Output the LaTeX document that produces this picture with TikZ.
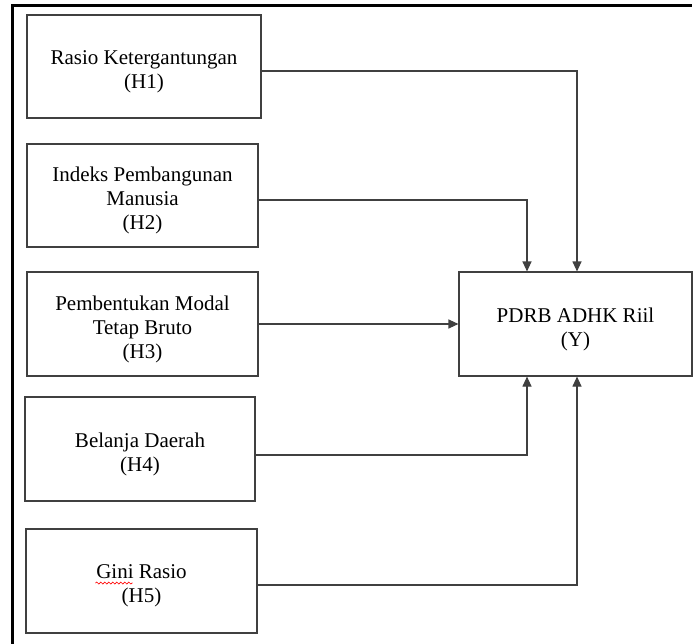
\documentclass[tikz,border=0pt]{standalone}
\usepackage{fontspec}
\setmainfont{Liberation Serif}
\usetikzlibrary{arrows.meta,decorations.pathmorphing,calc}
\begin{document}
\begin{tikzpicture}[x=1pt,y=-1pt,
  varbox/.style={draw=black!75,line width=1.1pt,inner sep=0pt},
  vartext/.style={align=center,inner sep=0pt,yshift=-5pt,
    font=\fontsize{21}{24}\selectfont},
  conn/.style={draw=black!75,line width=1.1pt,-{Triangle[length=10pt,width=9pt]}},
  frameline/.style={draw=black,line width=3pt},
  spellmark/.style={draw=red,line width=0.7pt,decorate,decoration={snake,amplitude=1pt,segment length=4pt}}]
\useasboundingbox (0,0) rectangle (695,644);
\draw[frameline] (12,644) -- (12,6) -- (692,6);
\node[varbox,minimum width=234pt,minimum height=103pt,label={[vartext]center:{Rasio Ketergantungan\\(H1)}}] (h1) at (144,66.5) {};
\node[varbox,minimum width=231pt,minimum height=103pt,label={[vartext]center:{Indeks Pembangunan\\Manusia\\(H2)}}] (h2) at (142.5,195.5) {};
\node[varbox,minimum width=231pt,minimum height=104pt,label={[vartext]center:{Pembentukan Modal\\Tetap Bruto\\(H3)}}] (h3) at (142.5,324) {};
\node[varbox,minimum width=230pt,minimum height=104pt,label={[vartext]center:{Belanja Daerah\\(H4)}}] (h4) at (140,449) {};
\node[varbox,minimum width=231pt,minimum height=104pt,label={[vartext]center:{Gini Rasio\\(H5)}}] (h5) at (141.5,581) {};
\node[varbox,minimum width=233pt,minimum height=104pt,label={[vartext]center:{PDRB ADHK Riil\\(Y)}}] (y) at (575.5,324) {};
\draw[spellmark] ($(h5.center)+(-46,2)$) -- ($(h5.center)+(-9,2)$);
\draw[conn] ([yshift=-4.5pt]h1.east) -| ([xshift=1.5pt]y.north);
\draw[conn] ([yshift=-4.5pt]h2.east) -| ([xshift=-48.5pt]y.north);
\draw[conn] (h3.east) -- (y.west);
\draw[conn] ([yshift=-6pt]h4.east) -| ([xshift=-48.5pt]y.south);
\draw[conn] ([yshift=-4pt]h5.east) -| ([xshift=1.5pt]y.south);
\end{tikzpicture}
\end{document}
